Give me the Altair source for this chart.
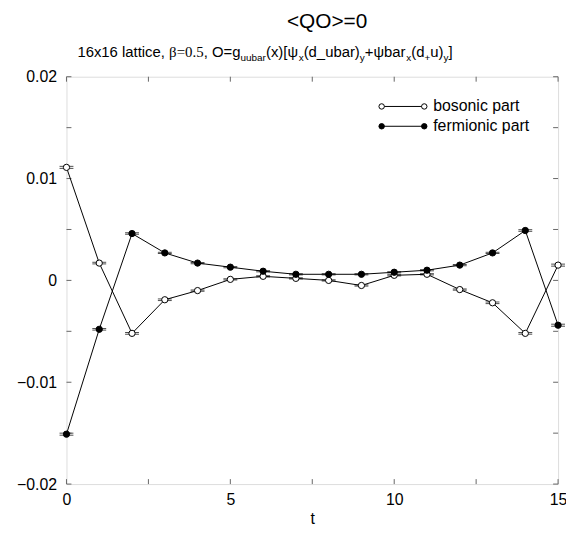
import altair as alt
import pandas as pd

# ---------------- data ----------------
t_vals = list(range(16))
bosonic = [0.0111, 0.0017, -0.0052, -0.0019, -0.0010, 0.0001, 0.0004, 0.0002,
           0.0000, -0.0005, 0.0005, 0.0006, -0.0009, -0.0022, -0.0052, 0.0015]
bos_err = [0.00010, 0.00008, 0.00008, 0.00008, 0.00006, 0.00006, 0.00006, 0.00006,
           0.00006, 0.00006, 0.00006, 0.00006, 0.00006, 0.00008, 0.00008, 0.00010]
fermionic = [-0.0151, -0.0048, 0.0046, 0.0027, 0.0017, 0.0013, 0.0009, 0.0006,
             0.0006, 0.0006, 0.0008, 0.0010, 0.0015, 0.0027, 0.0049, -0.0044]
ferm_err = [0.00010, 0.00008, 0.00008, 0.00006, 0.00006, 0.00006, 0.00006, 0.00006,
            0.00006, 0.00006, 0.00006, 0.00006, 0.00006, 0.00006, 0.00008, 0.00010]

x_label_values = [0, 5, 10, 15]
x_tick_values = [0, 2.5, 5, 7.5, 10, 12.5, 15]
y_label_values = [-0.02, -0.01, 0, 0.01, 0.02]
y_tick_values = [-0.02, -0.015, -0.01, -0.005, 0, 0.005, 0.01, 0.015, 0.02]

title_text = "<QO>=0"
subtitle_segments = [
    ("16x16 lattice, ", "n"), ("\u03b2=0.5", "serif"), (", O=g", "n"), ("uubar", "s"),
    ("(x)[\u03c8", "n"), ("x", "s"), ("(d_ubar)", "n"), ("y", "s"),
    ("+\u03c8bar", "n"), ("x", "s"), ("(d", "n"), ("+", "s"), ("u)", "n"), ("y", "s"),
    ("]", "n"),
]
legend_labels = ["bosonic part", "fermionic part"]

# ---------------- layout ----------------
W, H = 496, 411
PAD = {"left": 59, "top": 67, "right": 8, "bottom": 44}
FONT = "Liberation Sans, Arial, Helvetica, sans-serif"
SERIF = "Liberation Serif, Times New Roman, serif"
FRAME = "#666666"

xs = alt.Scale(domain=[0, 15], nice=False, zero=False)
ys = alt.Scale(domain=[-0.02, 0.02], nice=False, zero=False)

xaxis = alt.Axis(values=x_label_values, title="t", ticks=False, tickSize=0, domain=False,
                 grid=False, labelFont=FONT, labelFontSize=16, labelPadding=8,
                 labelColor="black", titleFont=FONT, titleFontSize=16,
                 titleFontWeight="normal", titleColor="black", titlePadding=3,
                 labelFlush=False, format="d")
yaxis = alt.Axis(values=y_label_values, title=None, ticks=False, tickSize=0, domain=False,
                 grid=False, labelFont=FONT, labelFontSize=16, labelPadding=10,
                 labelColor="black", labelFlush=False,
                 labelExpr="datum.value == 0 ? '0' : replace(format(datum.value, '.2f'), '-', '\u2212')")

X = alt.X("t:Q", scale=xs, axis=xaxis)
Y = alt.Y("v:Q", scale=ys, axis=yaxis)

bos_df = pd.DataFrame({"t": t_vals, "v": bosonic,
                       "lo": [b - e for b, e in zip(bosonic, bos_err)],
                       "hi": [b + e for b, e in zip(bosonic, bos_err)]})
fer_df = pd.DataFrame({"t": t_vals, "v": fermionic,
                       "lo": [b - e for b, e in zip(fermionic, ferm_err)],
                       "hi": [b + e for b, e in zip(fermionic, ferm_err)]})

layers = []

# inward ticks (all four sides)
yt = pd.DataFrame({"v": y_tick_values})
xt = pd.DataFrame({"t": x_tick_values})
layers.append(alt.Chart(yt).mark_rule(color=FRAME, strokeWidth=1).encode(
    y=Y, x=alt.value(0), x2=alt.value(5)))
layers.append(alt.Chart(yt).mark_rule(color=FRAME, strokeWidth=1).encode(
    y=Y, x=alt.value(W - 5), x2=alt.value(W)))
layers.append(alt.Chart(xt).mark_rule(color=FRAME, strokeWidth=1).encode(
    x=X, y=alt.value(H - 5), y2=alt.value(H)))
layers.append(alt.Chart(xt).mark_rule(color=FRAME, strokeWidth=1).encode(
    x=X, y=alt.value(0), y2=alt.value(5)))

for df, filled in [(bos_df, False), (fer_df, True)]:
    layers.append(alt.Chart(df).mark_line(color="black", strokeWidth=1).encode(x=X, y=Y))
    layers.append(alt.Chart(df).mark_rule(color="black", strokeWidth=1).encode(
        x=X, y=alt.Y("lo:Q", scale=ys, axis=yaxis), y2="hi:Q"))
    for col in ["lo", "hi"]:
        layers.append(alt.Chart(df).mark_tick(color="black", orient="horizontal",
                                              size=14, thickness=1).encode(
            x=X, y=alt.Y(f"{col}:Q", scale=ys, axis=yaxis)))
    layers.append(alt.Chart(df).mark_point(shape="circle", size=40, filled=True,
                                           fill="black" if filled else "white",
                                           stroke="black", strokeWidth=1, opacity=1).encode(x=X, y=Y))

# legend
one = alt.Data(values=[{}])
leg_x0, leg_x1, leg_tx = 318, 361, 370
for i, (lab, filled) in enumerate(zip(legend_labels, [False, True])):
    ly = 30 + 20 * i
    layers.append(alt.Chart(one).mark_rule(color="black", strokeWidth=1).encode(
        x=alt.value(leg_x0), x2=alt.value(leg_x1), y=alt.value(ly)))
    for px in (leg_x0, leg_x1):
        layers.append(alt.Chart(one).mark_point(shape="circle", size=30, filled=True,
                                                fill="black" if filled else "white",
                                                stroke="black", strokeWidth=1, opacity=1).encode(
            x=alt.value(px), y=alt.value(ly)))
    layers.append(alt.Chart(one).mark_text(text=lab, align="left", baseline="middle",
                                           font=FONT, fontSize=16, color="black").encode(
        x=alt.value(leg_tx), y=alt.value(ly)))

# title
layers.append(alt.Chart(one).mark_text(text=title_text, align="center", baseline="middle",
                                       font=FONT, fontSize=21, color="black").encode(
    x=alt.value(263), y=alt.value(-55)))

# subtitle with subscripts
ARIAL_W = {'1': 556, '6': 556, 'x': 500, ' ': 278, 'l': 222, 'a': 556, 't': 278, 'i': 222,
           'c': 500, 'e': 556, ',': 278, '\u03b2': 575, '=': 584, '0': 556, '.': 278,
           '5': 556, 'O': 778, 'g': 556, 'u': 556, 'b': 556, 'r': 333, '(': 333, ')': 333,
           '[': 278, ']': 278, '\u03c8': 760, 'd': 556, '_': 556, '+': 584, 'y': 500}
TIMES_W = {'\u03b2': 520, '=': 564, '0': 500, '.': 250, '5': 500}
MAIN, SUB = 15, 10
sx, sy = 11, -20
for txt, kind in subtitle_segments:
    if kind == "s":
        size, font, dy, table = SUB, FONT, 4, ARIAL_W
    elif kind == "serif":
        size, font, dy, table = MAIN, SERIF, 0, TIMES_W
    else:
        size, font, dy, table = MAIN, FONT, 0, ARIAL_W
    layers.append(alt.Chart(one).mark_text(text=txt, align="left", baseline="alphabetic",
                                           font=font, fontSize=size, color="black").encode(
        x=alt.value(sx), y=alt.value(sy + dy)))
    sx += sum(table.get(c, 556) for c in txt) * size / 1000.0

chart = alt.layer(*layers).properties(
    width=W, height=H,
    autosize=alt.AutoSizeParams(type="none"),
    padding=PAD,
).configure_view(stroke=FRAME, strokeWidth=1).configure(background="white")

chart.save("out.html", embed_options={"renderer": "svg", "actions": False})
